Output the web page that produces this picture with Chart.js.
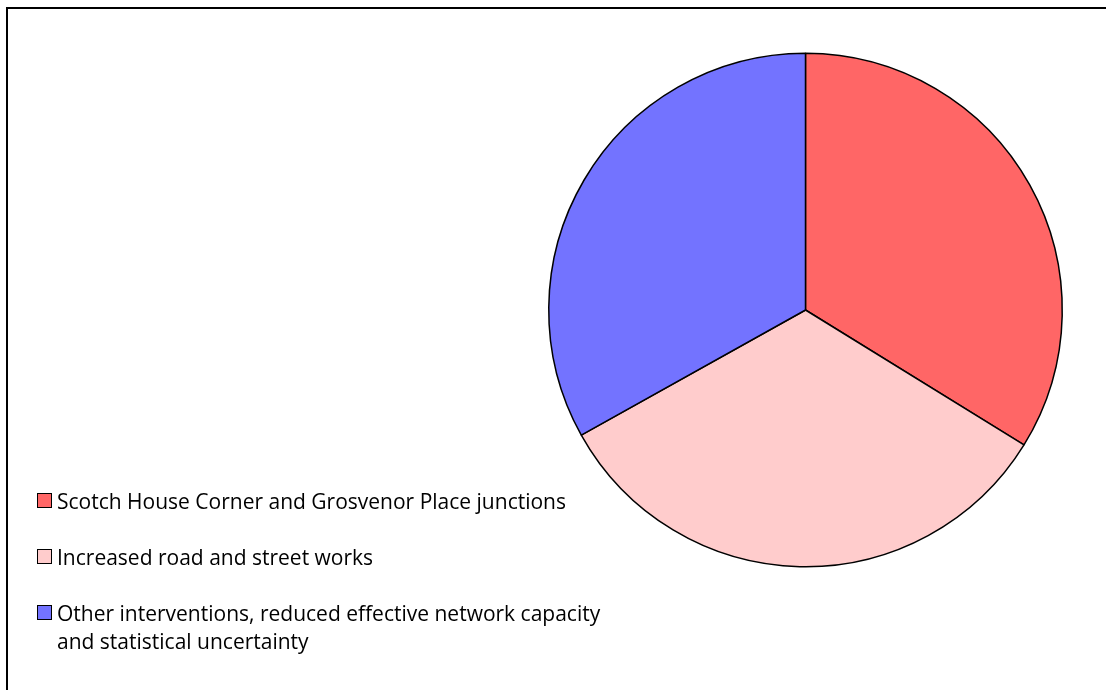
<!DOCTYPE html>
<html>
<head>
<meta charset="utf-8">
<script src="https://cdn.jsdelivr.net/npm/chart.js@4/dist/chart.umd.min.js"></script>
<style>
  html, body { margin: 0; padding: 0; background: #fff; }
  #wrap { position: relative; width: 1106px; height: 690px; overflow: hidden; }
  #frame {
    position: absolute; left: 6px; top: 7px; width: 1200px; height: 800px;
    border-top: 2px solid #000; border-left: 2px solid #000;
  }
  #pieChart { position: absolute; left: 0; top: 0; }
  #legend {
    position: absolute; left: 37px; top: 487px; width: 620px;
    font-family: "Open Sans", "Noto Sans", sans-serif; font-size: 21px; color: #000;
  }
  .item { display: flex; align-items: flex-start; margin-bottom: 28px; line-height: 28px; }
  .box { flex: 0 0 auto; width: 13px; height: 13px; border: 1.5px solid #000; margin: 6px 5px 0 0; }
</style>
</head>
<body>
<div id="wrap">
  <div id="frame"></div>
  <canvas id="pieChart" width="1106" height="690"></canvas>
  <div id="legend"></div>
</div>
<script>
  const categorias = [
    'Scotch House Corner and Grosvenor Place junctions',
    'Increased road and street works',
    'Other interventions, reduced effective network capacity\nand statistical uncertainty',
  ];
  const valores = [33.8, 33.1, 33.1];
  const cores = ['#ff6666', '#ffcccc', '#7373ff'];

  const ctx = document.getElementById('pieChart');
  const chart = new Chart(ctx, {
    type: 'pie',
    data: {
      labels: categorias,
      datasets: [
        {
          data: valores,
          backgroundColor: cores,
          borderColor: '#000',
          borderWidth: 1.5,
        },
      ],
    },
    options: {
      responsive: false,
      animation: false,
      layout: {
        padding: { left: 548, right: 43, top: 52, bottom: 122 },
      },
      plugins: {
        legend: { display: false },
        tooltip: { enabled: false },
      },
    },
  });

  // legenda em HTML, gerada a partir dos dados do gráfico
  const legenda = document.getElementById('legend');
  chart.data.labels.forEach((label, i) => {
    const item = document.createElement('div');
    item.className = 'item';
    const box = document.createElement('span');
    box.className = 'box';
    box.style.background = chart.data.datasets[0].backgroundColor[i];
    const txt = document.createElement('span');
    txt.innerHTML = label.replace('\n', '<br>');
    item.appendChild(box);
    item.appendChild(txt);
    legenda.appendChild(item);
  });
</script>
</body>
</html>
